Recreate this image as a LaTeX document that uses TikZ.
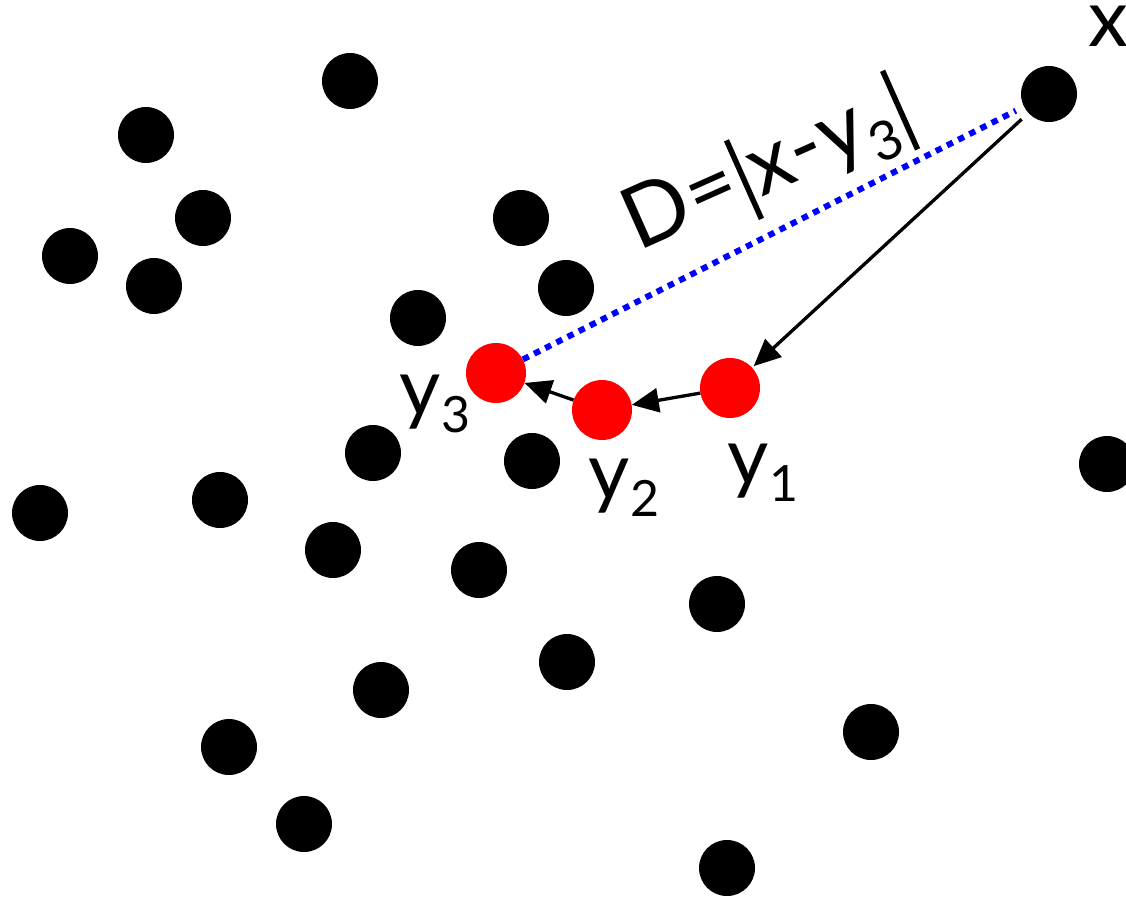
\documentclass[tikz,border=0pt]{standalone}
\usepackage{fontspec}
\setmainfont{Lato}
\usetikzlibrary{arrows.meta}
\newcommand\mysub[1]{\raisebox{-17pt}{\fontsize{50}{50}\selectfont #1}}
\newcommand\mysubb[1]{\raisebox{-18pt}{\fontsize{54}{54}\selectfont #1}}
\newcommand\mybar{\raisebox{-20pt}{\rule{5.5pt}{86pt}}}
\begin{document}
\begin{tikzpicture}[x=1pt,y=-1pt,
  dot/.style={circle,fill=black,minimum size=56pt,inner sep=0pt},
  reddot/.style={circle,fill=red,minimum size=60pt,inner sep=0pt},
  lbl/.style={font=\fontsize{80}{80}\selectfont,inner sep=0pt,anchor=base},
  arr/.style={line width=3.3pt,-{Triangle[length=27pt,width=24pt]}},
  dist/.style={draw=blue,line width=6pt,dash pattern=on 6.5pt off 6pt}]
\useasboundingbox (0,0) rectangle (1126,899);
% black dots
\node[dot] (d1) at (350,81) {};
\node[dot] (d2) at (146,135) {};
\node[dot] (d3) at (203,218) {};
\node[dot] (d4) at (70,256) {};
\node[dot] (d5) at (154,286) {};
\node[dot] (d6) at (521,218) {};
\node[dot] (d7) at (566,288) {};
\node[dot] (d8) at (418,318) {};
\node[dot] (x) at (1049,94) {};
\node[dot] (d10) at (373,453) {};
\node[dot] (d11) at (532,461) {};
\node[dot] (d12) at (1107,464) {};
\node[dot] (d13) at (40,513) {};
\node[dot] (d14) at (220,500) {};
\node[dot] (d15) at (333,550) {};
\node[dot] (d16) at (479,570) {};
\node[dot] (d17) at (717,604) {};
\node[dot] (d18) at (567,662) {};
\node[dot] (d19) at (381,690) {};
\node[dot] (d20) at (229,747) {};
\node[dot] (d21) at (871,732) {};
\node[dot] (d22) at (304,824) {};
\node[dot] (d23) at (727,868) {};
% red dots
\node[reddot] (y1) at (730,388) {};
\node[reddot] (y2) at (602,410) {};
\node[reddot] (y3) at (496,373) {};
% labels
\node[lbl] (lx) at (1108,47) {x};
\node[lbl] (ly1) at (763,484) {y\mysub{1}};
\node[lbl] (ly2) at (624,499) {y\mysub{2}};
\node[lbl] (ly3) at (435,415) {y\mysub{3}};
\node[lbl,font=\fontsize{86}{86}\selectfont,anchor=base west,rotate=24] (ld) at (638,252)
  {D\kern2pt=\kern6pt\mybar\kern6pt x\kern1pt-\kern1pt y\mysubb{3}\kern7pt\mybar};
% connectors
\draw[dist,shorten >=9pt] (y3) -- (x);
\draw[arr,shorten <=9pt,shorten >=2pt] (x) -- (y1);
\draw[arr] (y1) -- (y2);
\draw[arr] (y2) -- (y3);
\end{tikzpicture}
\end{document}
